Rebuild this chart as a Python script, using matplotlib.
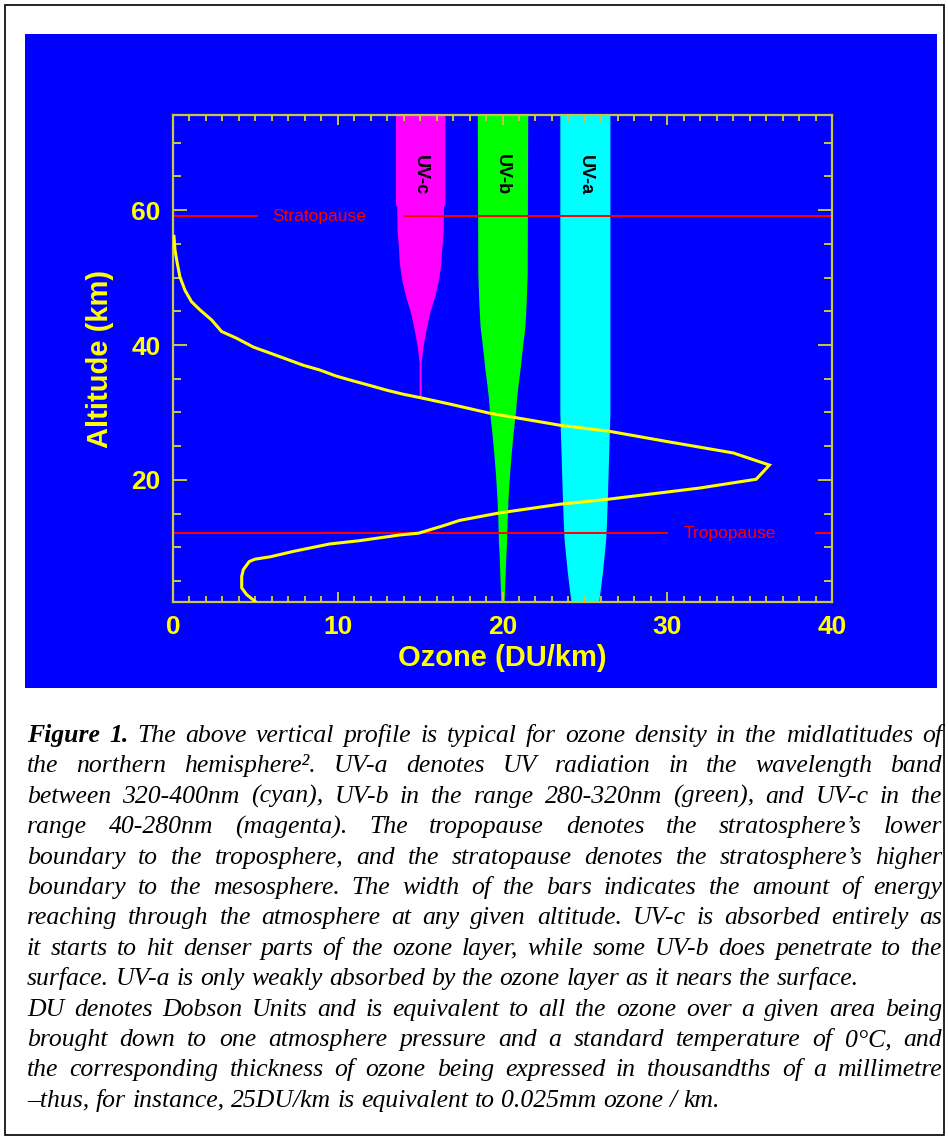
import matplotlib
matplotlib.use("Agg")
import matplotlib.pyplot as plt
from matplotlib.patches import Rectangle
from matplotlib.ticker import MultipleLocator
import numpy as np

W, H = 948, 1139

# --- ozone profile (DU/km against altitude km) ---
ozone_km = [56.1, 54.1, 52.1, 50.1, 48.1, 46.4, 45.2, 43.7, 42.0, 41.0, 39.7, 38.8,
            37.9, 37.0, 36.3, 35.4, 34.7, 34.0, 33.3, 32.7, 32.2, 31.3, 29.9, 28.1,
            27.2, 25.7, 24.0, 22.2, 20.1, 18.8, 17.1, 16.4, 15.1, 14.0, 13.2, 12.1,
            11.85, 11.0, 10.5, 9.4, 8.6, 8.25, 7.9, 6.7, 5.7, 4.0, 3.0, 2.0]
ozone_du = [0.06, 0.12, 0.26, 0.42, 0.73, 1.13, 1.64, 2.35, 2.95, 3.86, 4.87, 5.89,
            6.9, 7.9, 8.9, 9.9, 10.9, 11.95, 12.97, 13.98, 14.99, 16.7, 19.2, 23.5,
            26.5, 29.96, 34.0, 36.2, 35.4, 31.98, 26.3, 23.5, 19.8, 17.4, 16.4, 14.9,
            13.8, 11.35, 9.5, 7.3, 5.9, 4.98, 4.63, 4.27, 4.17, 4.17, 4.47, 4.98]

# --- UV bands: centre and half width (DU) by altitude ---
uvc_centre = 15.0
uvc_km = [74.1, 60.7, 60.7, 57.0, 54.6, 52.1, 49.6, 47.2, 44.7, 42.2, 39.7, 38.3, 37.5, 32.3]
uvc_hw = [1.50, 1.50, 1.42, 1.40, 1.32, 1.26, 1.11, 0.88, 0.57, 0.35, 0.17, 0.10, 0.06, 0.06]

uvb_centre = 20.0
uvb_km = [74.1, 50.6, 45.9, 42.7, 40.3, 38.3, 36.3, 34.4, 32.3, 30.4, 26.9, 24.0, 21.0,
          17.0, 14.0, 11.0, 8.6, 5.2, 1.9]
uvb_hw = [1.53, 1.50, 1.43, 1.36, 1.24, 1.15, 1.06, 0.96, 0.86, 0.80, 0.64, 0.53, 0.43,
          0.33, 0.28, 0.25, 0.20, 0.15, 0.10]

uva_centre = 25.0
uva_km = [74.1, 30.0, 25.9, 18.5, 13.6, 11.1, 8.6, 6.2, 4.2, 1.9]
uva_hw = [1.52, 1.52, 1.47, 1.38, 1.31, 1.26, 1.16, 1.06, 0.96, 0.84]

stratopause_km = 59.1
tropopause_km = 12.1

caption_lines = [
    "Figure 1. The above vertical profile is typical for ozone density in the midlatitudes of",
    "the northern hemisphere\u00b2. UV-a denotes UV radiation in the wavelength band",
    "between 320-400nm (cyan), UV-b in the range 280-320nm (green), and UV-c in the",
    "range 40-280nm (magenta). The tropopause denotes the stratosphere\u2019s lower",
    "boundary to the troposphere, and the stratopause denotes the stratosphere\u2019s higher",
    "boundary to the mesosphere. The width of the bars indicates the amount of energy",
    "reaching through the atmosphere at any given altitude. UV-c is absorbed entirely as",
    "it starts to hit denser parts of the ozone layer, while some UV-b does penetrate to the",
    "surface. UV-a is only weakly absorbed by the ozone layer as it nears the surface.",
    "DU denotes Dobson Units and is equivalent to all the ozone over a given area being",
    "brought down to one atmosphere pressure and a standard temperature of 0\u00b0C, and",
    "the corresponding thickness of ozone being expressed in thousandths of a millimetre",
    "\u2013thus, for instance, 25DU/km is equivalent to 0.025mm ozone / km.",
]
last_of_paragraph = {8, 12}

# colours
BLUE = "#0000ff"
AXC = "#c8c846"
YEL = "#ffff00"
RED = "#ff0000"

fig = plt.figure(figsize=(W / 100, H / 100), dpi=100)
fig.patch.set_facecolor("white")

# outer frame and blue panel (kept behind the axes)
fig.patches.append(Rectangle((4.5 / W, 4.5 / H), (W - 9) / W, (H - 9) / H,
                             transform=fig.transFigure, fill=False,
                             edgecolor="black", linewidth=1.2, zorder=-2))
fig.patches.append(Rectangle((25 / W, 1 - 688 / H), 912 / W, 654 / H,
                             transform=fig.transFigure, facecolor=BLUE,
                             edgecolor="none", zorder=-1))

ax = fig.add_axes([173 / W, 1 - 602 / H, 659 / W, 487 / H])
ax.set_facecolor(BLUE)

# bars
for centre, km, hw, col in [(uvc_centre, uvc_km, uvc_hw, "#ff00ff"),
                            (uvb_centre, uvb_km, uvb_hw, "#00ff00"),
                            (uva_centre, uva_km, uva_hw, "#00ffff")]:
    km = np.array(km)
    hw = np.array(hw)
    ax.fill_betweenx(km, centre - hw, centre + hw, color=col, linewidth=0, zorder=1)

# stratopause / tropopause
ax.plot([0, 5.1], [stratopause_km] * 2, color=RED, lw=1.4, zorder=2)
ax.plot([14.0, 40], [stratopause_km] * 2, color=RED, lw=1.4, zorder=2)
ax.plot([0, 30], [tropopause_km] * 2, color=RED, lw=1.4, zorder=2)
ax.plot([39, 40], [tropopause_km] * 2, color=RED, lw=1.4, zorder=2)
ax.text(8.86, stratopause_km, "Stratopause", color=RED, fontsize=12.5,
        family="Liberation Sans", ha="center", va="center", zorder=4)
ax.text(33.8, tropopause_km, "Tropopause", color=RED, fontsize=12.5,
        family="Liberation Sans", ha="center", va="center", zorder=4)

# ozone curve
ax.plot(ozone_du, ozone_km, color=YEL, lw=2.2, zorder=3, solid_joinstyle="miter")

# band labels
for centre, name in [(uvc_centre, "UV-c"), (uvb_centre, "UV-b"), (uva_centre, "UV-a")]:
    ax.text(centre, 65.2, name, rotation=270, color="black", fontsize=13,
            fontweight="bold", family="Liberation Sans", ha="center", va="center",
            zorder=4)

ax.set_xlim(0, 40)
ax.set_ylim(1.9, 74.1)
ax.xaxis.set_major_locator(MultipleLocator(10))
ax.xaxis.set_minor_locator(MultipleLocator(1))
ax.yaxis.set_major_locator(MultipleLocator(20))
ax.yaxis.set_minor_locator(MultipleLocator(5))

for s in ax.spines.values():
    s.set_color(AXC)
    s.set_linewidth(1.6)

ax.tick_params(which="both", direction="in", top=True, right=True, color=AXC, width=1.4,
               labelcolor=YEL, labelsize=19, pad=9)
ax.xaxis.set_tick_params(which="major", length=7.5)
ax.xaxis.set_tick_params(which="minor", length=4.3)
ax.yaxis.set_tick_params(which="major", length=10)
ax.yaxis.set_tick_params(which="minor", length=5.8)
for lab in ax.get_xticklabels() + ax.get_yticklabels():
    lab.set_fontweight("bold")
    lab.set_family("Liberation Sans")

ax.set_xlabel("Ozone (DU/km)", color=YEL, fontsize=21, fontweight="bold",
              family="Liberation Sans", va="center")
ax.xaxis.set_label_coords(0.5, (602 - 658) / 487)
ax.set_ylabel("Altitude (km)", color=YEL, fontsize=21, fontweight="bold",
              family="Liberation Sans", va="center")
ax.yaxis.set_label_coords((100 - 173) / 659, 0.5)

# --- caption, justified like the original ---
renderer = fig.canvas.get_renderer()
serif = "Liberation Serif"


def text_width(s, size, weight="normal"):
    t = fig.text(0, 0, s, fontsize=size, family=serif, style="italic", fontweight=weight)
    w = t.get_window_extent(renderer).width
    t.remove()
    return w


x_left, x_right = 27, 942
probe = text_width(caption_lines[8], 10)
size = 10 * 836 / probe
space = text_width("a a", size) - text_width("aa", size)

base0, step = 742, 30.4
for i, line in enumerate(caption_lines):
    y = 1 - (base0 + i * step) / H
    words = line.split(" ")
    weights = ["bold" if (i == 0 and j < 2) else "normal" for j in range(len(words))]
    widths = [text_width(wd, size, wt) for wd, wt in zip(words, weights)]
    if i in last_of_paragraph:
        gap = space
    else:
        gap = (x_right - x_left - sum(widths)) / (len(words) - 1)
    x = x_left
    for wd, wt, w in zip(words, weights, widths):
        fig.text(x / W, y, wd, fontsize=size, family=serif, style="italic",
                 fontweight=wt, ha="left", va="baseline", color="black")
        x += w + gap

fig.savefig("out.png", dpi=100)
